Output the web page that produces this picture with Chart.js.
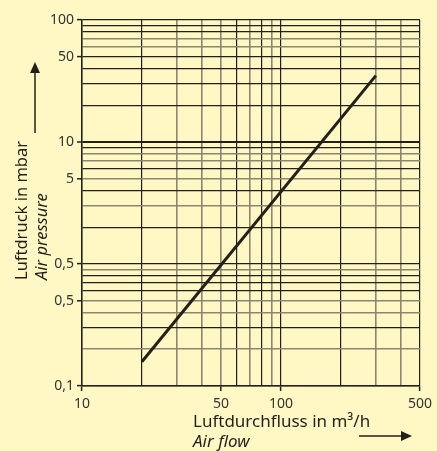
<!DOCTYPE html>
<html>
<head>
<meta charset="utf-8">
<script src="https://cdn.jsdelivr.net/npm/chart.js@4.4.1/dist/chart.umd.min.js"></script>
<style>
html,body{margin:0;padding:0;background:#FFF8C5;}
#wrap{width:437px;height:451px;position:relative;}
</style>
</head>
<body>
<div id="wrap"><canvas id="c" width="437" height="451"></canvas></div>
<script>
// Data
const flowValues = [20, 300];          // m³/h
const pressureValues = [0.158, 35];    // mbar

// Grid positions (log decades)
const xGrid = [10, 20, 30, 40, 50, 60, 70, 80, 90, 100, 200, 300, 400, 500];
const yGrid = [0.1, 0.2, 0.3, 0.4, 0.5, 0.6, 0.7, 0.8, 0.9, 1, 2, 3, 4, 5, 6, 7, 8, 9, 10, 20, 30, 40, 50, 60, 70, 80, 90, 100];

// Tick labels
const xTickValues = [10, 50, 100, 500];
const xTickLabels = ['10', '50', '100', '500'];
const yTickValues = [0.1, 0.5, 1, 5, 10, 50, 100];
const yTickLabels = ['0,1', '0,5', '0,5', '5', '10', '50', '100'];

// Lighter grid lines
const xGreyLines = [30, 40, 50, 70, 90, 300, 400];
const yGreyLines = [0.2, 0.4, 0.5, 0.9, 3, 5, 7, 8, 60, 70];

const BLACK = '#231f1a';
const GREY = '#8c8670';
const near = (a, b) => Math.abs(a - b) / b < 1e-6;
const inList = (v, list) => list.some(x => near(v, x));
const labelFor = (v, vals, labs) => { const i = vals.findIndex(x => near(v, x)); return i >= 0 ? labs[i] : ''; };

const titlePlugin = {
  id: 'titles',
  afterDraw(chart) {
    const ctx = chart.ctx;
    ctx.save();
    ctx.fillStyle = BLACK;
    ctx.strokeStyle = BLACK;
    // Y title
    ctx.save();
    ctx.translate(22, 280);
    ctx.rotate(-Math.PI / 2);
    ctx.textAlign = 'left';
    ctx.textBaseline = 'middle';
    ctx.font = '16.5px "Noto Sans"';
    ctx.fillText('Luftdruck in mbar', 0, 0);
    ctx.restore();
    ctx.save();
    ctx.translate(42, 280);
    ctx.rotate(-Math.PI / 2);
    ctx.textAlign = 'left';
    ctx.textBaseline = 'middle';
    ctx.font = 'italic 16.5px "Noto Sans"';
    ctx.fillText('Air pressure', 0, 0);
    ctx.restore();
    // Y arrow
    ctx.lineWidth = 1.5;
    ctx.beginPath(); ctx.moveTo(35, 133); ctx.lineTo(35, 72); ctx.stroke();
    ctx.beginPath(); ctx.moveTo(35, 62); ctx.lineTo(30, 73); ctx.lineTo(40, 73); ctx.closePath(); ctx.fill();
    // X title
    ctx.textAlign = 'left';
    ctx.textBaseline = 'alphabetic';
    ctx.font = '17px "Noto Sans"';
    ctx.fillText('Luftdurchfluss in m³/h', 193, 427);
    ctx.font = 'italic 17px "Noto Sans"';
    ctx.fillText('Air flow', 193, 447);
    // X arrow
    ctx.beginPath(); ctx.moveTo(359, 436); ctx.lineTo(402, 436); ctx.stroke();
    ctx.beginPath(); ctx.moveTo(412, 436); ctx.lineTo(401, 431); ctx.lineTo(401, 441); ctx.closePath(); ctx.fill();
    ctx.restore();
  }
};

new Chart(document.getElementById('c'), {
  type: 'line',
  data: {
    datasets: [{
      data: flowValues.map((x, i) => ({ x: x, y: pressureValues[i] })),
      borderColor: BLACK,
      borderWidth: 3,
      pointRadius: 0,
      fill: false,
      tension: 0
    }]
  },
  options: {
    responsive: false,
    animation: false,
    layout: { padding: { top: 20, right: 13, left: 0, bottom: 0 } },
    plugins: { legend: { display: false }, tooltip: { enabled: false } },
    scales: {
      x: {
        type: 'logarithmic',
        min: 10, max: 500,
        afterBuildTicks(scale) { scale.ticks = xGrid.map(v => ({ value: v })); },
        afterFit(scale) { scale.height = 65; },
        ticks: {
          autoSkip: false, maxRotation: 0,
          padding: 5,
          color: '#333',
          font: { family: 'Noto Sans', size: 14 },
          callback: v => labelFor(v, xTickValues, xTickLabels)
        },
        grid: {
          color: c => inList(c.tick.value, xGreyLines) ? GREY : BLACK,
          lineWidth: c => inList(c.tick.value, xGreyLines) ? 1.6 : 1.2,
          tickLength: 5,
          tickColor: c => inList(c.tick.value, xTickValues) ? BLACK : 'rgba(0,0,0,0)',
          tickWidth: 1.5
        },
        border: { color: BLACK, width: 1.5 }
      },
      y: {
        type: 'logarithmic',
        min: 0.1, max: 100,
        afterBuildTicks(scale) { scale.ticks = yGrid.map(v => ({ value: v })); },
        afterFit(scale) { scale.width = 82; },
        ticks: {
          autoSkip: false,
          padding: 3,
          color: '#333',
          font: { family: 'Noto Sans', size: 14 },
          callback: v => labelFor(v, yTickValues, yTickLabels)
        },
        grid: {
          color: c => inList(c.tick.value, yGreyLines) ? GREY : BLACK,
          lineWidth: c => near(c.tick.value, 10) ? 2 : (inList(c.tick.value, yGreyLines) ? 1.6 : 1.2),
          tickLength: 5,
          tickColor: c => inList(c.tick.value, yTickValues) ? BLACK : 'rgba(0,0,0,0)',
          tickWidth: 1.5
        },
        border: { color: BLACK, width: 1.5 }
      }
    }
  },
  plugins: [titlePlugin]
});
</script>
</body>
</html>
